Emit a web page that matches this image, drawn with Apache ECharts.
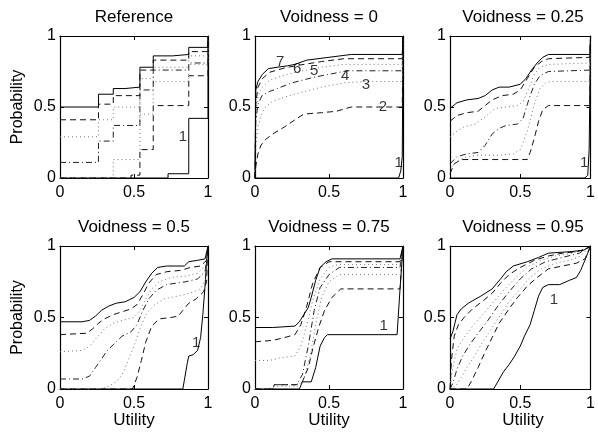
<!DOCTYPE html>
<html><head><meta charset="utf-8">
<script src="https://cdn.jsdelivr.net/npm/echarts@6/dist/echarts.min.js"></script>
<style>html,body{margin:0;padding:0;background:#fff}#c{width:598px;height:434px}</style>
</head><body><div id="c"></div>
<script>
// ---- data ----
const panelTitles = ['Reference', 'Voidness = 0', 'Voidness = 0.25', 'Voidness = 0.5', 'Voidness = 0.75', 'Voidness = 0.95'];
const tickValues = [0, 0.5, 1];
const seriesNames = ['1', '2', '3', '4', '5', '6', '7'];

// Reference (step CDFs)
const ref1 = [[0,0],[0.73,0.03],[0.87,0.42],[1,0.42],[1,1]];
const ref2 = [[0,0],[0.48,0.02],[0.54,0.20],[0.63,0.51],[0.87,0.72],[1,0.72],[1,1]];
const ref3 = [[0,0],[0.36,0.13],[0.54,0.45],[0.63,0.68],[0.87,0.80],[1,0.80],[1,1]];
const ref4 = [[0,0.11],[0.26,0.26],[0.36,0.37],[0.54,0.62],[0.63,0.76],[0.87,0.81],[1,0.81],[1,1]];
const ref5 = [[0,0.29],[0.26,0.41],[0.36,0.50],[0.54,0.70],[0.63,0.78],[0.87,0.86],[1,0.86],[1,1]];
const ref6 = [[0,0.41],[0.26,0.52],[0.36,0.58],[0.54,0.76],[0.63,0.83],[0.87,0.89],[1,0.89],[1,1]];
const ref7 = [[0,0.50],[0.26,0.59],[0.36,0.63],[0.44,0.64],[0.54,0.78],[0.63,0.86],[0.76,0.87],[0.87,0.92],[1,0.92],[1,1]];

// Voidness = 0
const v0_1 = [[0,0],[0.97,0],[0.985,0.05],[0.995,0.15],[1,1]];
const v0_2 = [[0,0],[0.005,0.08],[0.02,0.17],[0.04,0.23],[0.07,0.27],[0.12,0.31],[0.2,0.36],[0.27,0.41],[0.33,0.45],[0.45,0.46],[0.55,0.47],[0.65,0.50],[0.995,0.50],[1,1]];
const v0_3 = [[0,0],[0.005,0.22],[0.02,0.36],[0.04,0.44],[0.07,0.50],[0.12,0.54],[0.2,0.57],[0.3,0.60],[0.45,0.64],[0.6,0.67],[0.75,0.68],[0.995,0.68],[1,1]];
const v0_4 = [[0,0],[0.005,0.40],[0.02,0.52],[0.05,0.585],[0.1,0.61],[0.15,0.63],[0.25,0.67],[0.4,0.71],[0.55,0.74],[0.62,0.755],[0.995,0.755],[1,1]];
const v0_5 = [[0,0],[0.005,0.45],[0.02,0.58],[0.05,0.64],[0.1,0.69],[0.2,0.725],[0.3,0.75],[0.45,0.78],[0.6,0.80],[0.995,0.80],[1,1]];
const v0_6 = [[0,0],[0.005,0.52],[0.02,0.64],[0.05,0.70],[0.1,0.745],[0.2,0.775],[0.3,0.795],[0.45,0.82],[0.6,0.84],[0.995,0.84],[1,1]];
const v0_7 = [[0,0],[0.005,0.62],[0.02,0.68],[0.05,0.73],[0.09,0.77],[0.15,0.78],[0.22,0.79],[0.27,0.80],[0.35,0.83],[0.5,0.85],[0.65,0.87],[0.995,0.87],[1,1]];

// Voidness = 0.25
const v25_1 = [[0,0],[0.96,0],[0.98,0.02],[0.99,0.2],[1,1]];
const v25_2 = [[0,0.03],[0.03,0.10],[0.08,0.13],[0.2,0.13],[0.4,0.13],[0.55,0.13],[0.57,0.18],[0.6,0.28],[0.63,0.40],[0.66,0.48],[0.7,0.51],[0.995,0.51],[1,1]];
const v25_3 = [[0,0.06],[0.05,0.12],[0.12,0.15],[0.2,0.16],[0.35,0.16],[0.45,0.17],[0.5,0.20],[0.55,0.33],[0.6,0.52],[0.64,0.63],[0.68,0.67],[0.72,0.68],[0.995,0.68],[1,1]];
const v25_4 = [[0,0.10],[0.05,0.15],[0.12,0.17],[0.2,0.18],[0.25,0.23],[0.3,0.31],[0.35,0.35],[0.4,0.37],[0.48,0.38],[0.52,0.42],[0.56,0.55],[0.6,0.66],[0.64,0.72],[0.7,0.75],[0.995,0.76],[1,1]];
const v25_5 = [[0,0.29],[0.05,0.33],[0.1,0.36],[0.18,0.38],[0.25,0.43],[0.32,0.49],[0.4,0.50],[0.48,0.51],[0.52,0.54],[0.56,0.63],[0.6,0.73],[0.64,0.78],[0.7,0.80],[0.995,0.81],[1,1]];
const v25_6 = [[0,0.40],[0.05,0.44],[0.12,0.46],[0.2,0.47],[0.25,0.51],[0.3,0.55],[0.37,0.58],[0.45,0.59],[0.5,0.62],[0.55,0.70],[0.6,0.78],[0.65,0.82],[0.7,0.84],[0.995,0.85],[1,1]];
const v25_7 = [[0,0.49],[0.05,0.53],[0.12,0.55],[0.2,0.56],[0.25,0.58],[0.3,0.62],[0.35,0.64],[0.42,0.64],[0.5,0.66],[0.54,0.70],[0.58,0.76],[0.62,0.81],[0.66,0.85],[0.7,0.87],[0.995,0.87],[1,1]];

// Voidness = 0.5
const v50_1 = [[0,0],[0.83,0],[0.84,0.06],[0.86,0.18],[0.87,0.23],[0.9,0.24],[0.93,0.27],[0.95,0.36],[0.965,0.52],[0.98,0.72],[0.99,0.88],[1,1]];
const v50_2 = [[0,0],[0.49,0],[0.52,0.08],[0.55,0.2],[0.58,0.33],[0.62,0.44],[0.67,0.49],[0.75,0.50],[0.8,0.51],[0.83,0.55],[0.87,0.60],[0.92,0.63],[0.97,0.68],[0.99,0.75],[1,1]];
const v50_3 = [[0,0],[0.28,0],[0.33,0.02],[0.38,0.05],[0.42,0.10],[0.46,0.20],[0.5,0.30],[0.54,0.42],[0.58,0.52],[0.63,0.58],[0.7,0.63],[0.8,0.65],[0.88,0.67],[0.95,0.70],[0.99,0.78],[1,1]];
const v50_4 = [[0,0.07],[0.15,0.07],[0.2,0.09],[0.24,0.15],[0.28,0.21],[0.32,0.27],[0.36,0.31],[0.42,0.37],[0.48,0.40],[0.52,0.45],[0.56,0.55],[0.6,0.63],[0.65,0.69],[0.72,0.73],[0.85,0.75],[0.93,0.77],[0.98,0.82],[1,1]];
const v50_5 = [[0,0.26],[0.15,0.27],[0.2,0.30],[0.25,0.36],[0.3,0.42],[0.36,0.46],[0.42,0.48],[0.5,0.50],[0.54,0.55],[0.58,0.63],[0.62,0.70],[0.67,0.75],[0.75,0.78],[0.85,0.79],[0.93,0.81],[0.98,0.86],[1,1]];
const v50_6 = [[0,0.38],[0.18,0.39],[0.22,0.42],[0.26,0.46],[0.3,0.49],[0.36,0.52],[0.42,0.54],[0.48,0.56],[0.52,0.59],[0.56,0.66],[0.6,0.74],[0.65,0.80],[0.72,0.82],[0.82,0.83],[0.88,0.85],[0.95,0.86],[0.99,0.9],[1,1]];
const v50_7 = [[0,0.47],[0.15,0.47],[0.2,0.48],[0.24,0.51],[0.28,0.55],[0.33,0.58],[0.38,0.60],[0.44,0.61],[0.5,0.64],[0.54,0.68],[0.58,0.75],[0.62,0.81],[0.66,0.85],[0.72,0.86],[0.84,0.86],[0.87,0.89],[0.93,0.90],[0.98,0.91],[1,1]];

// Voidness = 0.75
const v75_1 = [[0,0],[0.3,0],[0.32,0.05],[0.38,0.05],[0.41,0.15],[0.44,0.30],[0.47,0.36],[0.49,0.38],[0.96,0.38],[0.98,0.7],[1,1]];
const v75_2 = [[0,0],[0.12,0],[0.13,0.03],[0.28,0.03],[0.32,0.05],[0.36,0.15],[0.39,0.28],[0.43,0.43],[0.47,0.55],[0.52,0.64],[0.58,0.70],[0.98,0.70],[1,1]];
const v75_3 = [[0,0],[0.12,0],[0.13,0.02],[0.29,0.02],[0.33,0.07],[0.37,0.22],[0.41,0.45],[0.45,0.64],[0.5,0.75],[0.57,0.80],[0.98,0.80],[1,1]];
const v75_4 = [[0,0],[0.12,0],[0.13,0.03],[0.28,0.03],[0.32,0.10],[0.36,0.30],[0.40,0.55],[0.44,0.71],[0.5,0.80],[0.57,0.85],[0.98,0.85],[1,1]];
const v75_5 = [[0,0.2],[0.1,0.2],[0.18,0.22],[0.27,0.23],[0.31,0.30],[0.35,0.45],[0.39,0.62],[0.44,0.77],[0.5,0.85],[0.56,0.87],[0.98,0.87],[1,1]];
const v75_6 = [[0,0.33],[0.12,0.34],[0.2,0.36],[0.27,0.38],[0.31,0.45],[0.35,0.58],[0.39,0.74],[0.44,0.85],[0.5,0.89],[0.98,0.89],[1,1]];
const v75_7 = [[0,0.43],[0.12,0.43],[0.13,0.44],[0.27,0.44],[0.3,0.47],[0.33,0.52],[0.36,0.57],[0.38,0.64],[0.41,0.76],[0.44,0.85],[0.48,0.89],[0.52,0.91],[0.98,0.91],[1,1]];

// Voidness = 0.95
const v95_1 = [[0,0],[0.31,0],[0.34,0.05],[0.38,0.12],[0.42,0.17],[0.46,0.23],[0.5,0.30],[0.53,0.37],[0.57,0.45],[0.6,0.55],[0.63,0.65],[0.66,0.71],[0.7,0.73],[0.78,0.73],[0.85,0.76],[0.9,0.78],[0.93,0.83],[0.96,0.9],[0.98,0.95],[1,1]];
const v95_2 = [[0,0],[0.12,0],[0.15,0.05],[0.2,0.15],[0.25,0.26],[0.3,0.36],[0.35,0.46],[0.42,0.56],[0.48,0.64],[0.55,0.72],[0.62,0.78],[0.7,0.84],[0.8,0.86],[0.9,0.88],[0.96,0.91],[1,1]];
const v95_3 = [[0,0],[0.04,0.02],[0.08,0.08],[0.12,0.15],[0.18,0.24],[0.24,0.34],[0.3,0.43],[0.36,0.52],[0.42,0.61],[0.5,0.70],[0.57,0.78],[0.65,0.84],[0.75,0.88],[0.85,0.9],[0.93,0.93],[1,1]];
const v95_4 = [[0,0],[0.02,0.04],[0.05,0.14],[0.09,0.23],[0.14,0.31],[0.2,0.39],[0.27,0.48],[0.34,0.58],[0.42,0.68],[0.5,0.77],[0.58,0.84],[0.68,0.89],[0.8,0.92],[0.92,0.95],[1,1]];
const v95_5 = [[0,0.02],[0.02,0.15],[0.05,0.28],[0.1,0.36],[0.17,0.45],[0.25,0.54],[0.32,0.62],[0.4,0.71],[0.48,0.79],[0.56,0.86],[0.65,0.90],[0.75,0.93],[0.87,0.95],[0.96,0.98],[1,1]];
const v95_6 = [[0,0],[0.01,0.2],[0.03,0.37],[0.06,0.45],[0.1,0.50],[0.16,0.56],[0.24,0.62],[0.3,0.67],[0.36,0.74],[0.42,0.80],[0.5,0.85],[0.6,0.90],[0.7,0.93],[0.8,0.95],[0.9,0.96],[0.97,0.98],[1,1]];
const v95_7 = [[0,0.35],[0.02,0.40],[0.05,0.52],[0.08,0.56],[0.13,0.60],[0.22,0.65],[0.3,0.70],[0.36,0.77],[0.4,0.82],[0.45,0.86],[0.55,0.89],[0.63,0.92],[0.7,0.95],[0.85,0.96],[0.95,0.97],[1,1]];

// curve labels [x, y, text]
const refLabels = [[0.83,0.29,'1']];
const v0Labels = [[0.17,0.82,'7'],[0.285,0.77,'6'],[0.40,0.756,'5'],[0.61,0.72,'4'],[0.75,0.656,'3'],[0.865,0.50,'2'],[0.97,0.105,'1']];
const v25Labels = [[0.955,0.105,'1']];
const v50Labels = [[0.92,0.32,'1']];
const v75Labels = [[0.87,0.445,'1']];
const v95Labels = [[0.74,0.62,'1']];

const panelCurves = [
  [ref1, ref2, ref3, ref4, ref5, ref6, ref7],
  [v0_1, v0_2, v0_3, v0_4, v0_5, v0_6, v0_7],
  [v25_1, v25_2, v25_3, v25_4, v25_5, v25_6, v25_7],
  [v50_1, v50_2, v50_3, v50_4, v50_5, v50_6, v50_7],
  [v75_1, v75_2, v75_3, v75_4, v75_5, v75_6, v75_7],
  [v95_1, v95_2, v95_3, v95_4, v95_5, v95_6, v95_7]
];
const panelLabels = [refLabels, v0Labels, v25Labels, v50Labels, v75Labels, v95Labels];

// ---- layout / style ----
const FONT = '"Liberation Sans", Arial, Helvetica, sans-serif';
const colLeft = [60, 255, 450];
const colWidth = [148, 148, 146];
const rowTop = [36, 246];
const rowHeight = [142, 143];
const lineStyles = [
  {type: 'solid', color: '#000'},
  {type: [6, 4], color: '#111'},
  {type: [1, 3], color: '#777'},
  {type: [6, 3, 1, 3], color: '#222'},
  {type: [1, 3], color: '#777'},
  {type: [6, 4], color: '#111'},
  {type: 'solid', color: '#000'}
];

const grids = [], xAxes = [], yAxes = [], series = [], graphics = [];
function axisBase(gi, pos, labels) {
  return {
    type: 'value', gridIndex: gi, min: 0, max: 1, interval: 0.5, position: pos,
    axisLine: {show: true, onZero: false, lineStyle: {color: '#000', width: 1.2}},
    axisTick: {show: true, inside: true, length: 4, lineStyle: {color: '#000', width: 1}},
    axisLabel: {show: labels, color: '#000', fontSize: 16, fontFamily: FONT,
      margin: (pos === 'bottom') ? 7 : 4, formatter: v => String(v)},
    splitLine: {show: false}
  };
}
for (let p = 0; p < 6; p++) {
  const r = Math.floor(p / 3), c = p % 3;
  grids.push({left: colLeft[c], top: rowTop[r], width: colWidth[c], height: rowHeight[r], containLabel: false});
  xAxes.push(axisBase(p, 'bottom', true));
  xAxes.push(axisBase(p, 'top', false));
  yAxes.push(axisBase(p, 'left', true));
  yAxes.push(axisBase(p, 'right', false));
  const xi = p * 2, yi = p * 2;
  panelCurves[p].forEach((d, k) => {
    series.push({
      type: 'line', name: seriesNames[k], xAxisIndex: xi, yAxisIndex: yi, data: d,
      showSymbol: false, symbol: 'none', step: p === 0 ? 'end' : false, smooth: false,
      lineStyle: {width: 1, type: lineStyles[k].type, color: lineStyles[k].color},
      itemStyle: {color: lineStyles[k].color}, silent: true, z: 2 + k
    });
  });
  series.push({
    type: 'scatter', xAxisIndex: xi, yAxisIndex: yi, data: panelLabels[p],
    symbolSize: 1, itemStyle: {color: 'rgba(0,0,0,0)'}, silent: true, z: 20,
    label: {show: true, position: 'inside', formatter: q => q.value[2], color: '#000',
      fontSize: 15, fontFamily: FONT}
  });
  const cx = colLeft[c] + colWidth[c] / 2;
  graphics.push({type: 'text', x: cx, y: rowTop[r] - 19, style: {text: panelTitles[p], fill: '#000',
    font: '17px ' + FONT, textAlign: 'center', textVerticalAlign: 'middle'}});
  if (r === 1) {
    graphics.push({type: 'text', x: cx, y: 420, style: {text: 'Utility', fill: '#000',
      font: '17px ' + FONT, textAlign: 'center', textVerticalAlign: 'middle'}});
  }
  if (c === 0) {
    graphics.push({type: 'text', x: 18, y: rowTop[r] + rowHeight[r] / 2, rotation: Math.PI / 2,
      style: {text: 'Probability', fill: '#000', font: '16px ' + FONT, textAlign: 'center', textVerticalAlign: 'middle'}});
  }
}

const chart = echarts.init(document.getElementById('c'), null, {renderer: 'canvas'});
chart.setOption({
  animation: false, backgroundColor: '#fff',
  grid: grids, xAxis: xAxes, yAxis: yAxes, series: series, graphic: graphics
});
</script></body></html>
